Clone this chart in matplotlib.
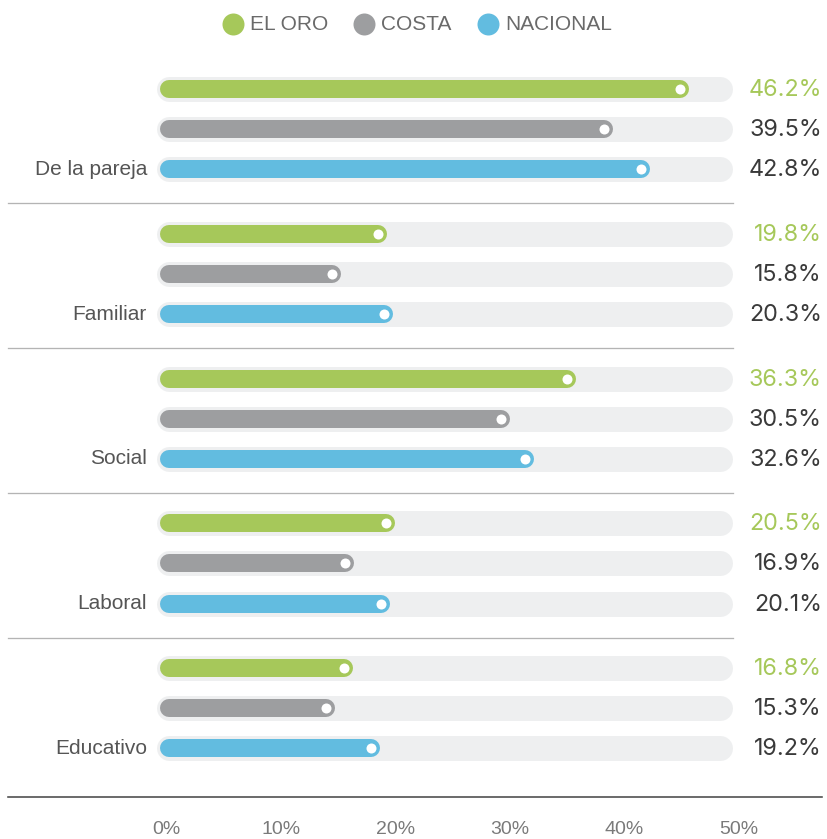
import matplotlib
matplotlib.use("Agg")
import matplotlib.pyplot as plt

categories = ["De la pareja", "Familiar", "Social", "Laboral", "Educativo"]
series = ["EL ORO", "COSTA", "NACIONAL"]
el_oro = [46.2, 19.8, 36.3, 20.5, 16.8]
costa = [39.5, 15.8, 30.5, 16.9, 15.3]
nacional = [42.8, 20.3, 32.6, 20.1, 19.2]
tick_values = [0, 10, 20, 30, 40, 50]
tick_labels = ["0%", "10%", "20%", "30%", "40%", "50%"]

colors = ["#a6c85a", "#9d9ea0", "#62bce0"]
track_color = "#eeeff0"
values = [el_oro, costa, nacional]

W, H = 827, 839
fig = plt.figure(figsize=(W / 100, H / 100), dpi=100)
ax = fig.add_axes([0, 0, 1, 1])
x0_px, x50_px = 160, 733
scale = 50 / (x50_px - x0_px)  # data units per pixel
ax.set_xlim(-x0_px * scale, (W - x0_px) * scale)
ax.set_ylim(H, 0)
ax.axis("off")

px2pt = 0.72
track_h, bar_h = 25, 18
r_track = track_h / 2 * scale
r_bar = bar_h / 2 * scale
group_gap, bar_gap, top = 144.75, 40.2, 89

font_main = ["Liberation Sans", "DejaVu Sans"]
font_val = ["Inter", "DejaVu Sans"]

for g, cat in enumerate(categories):
    for s in range(3):
        y = top + g * group_gap + s * bar_gap
        v = values[s][g]
        ax.plot([-3 * scale + r_track, 50 - r_track], [y, y], color=track_color,
                lw=track_h * px2pt, solid_capstyle="round", zorder=1)
        ax.plot([r_bar, v - r_bar], [y, y], color=colors[s],
                lw=bar_h * px2pt, solid_capstyle="round", zorder=2)
        ax.plot([v - r_bar], [y], marker="o", ms=10 * px2pt, color="white",
                mec="none", zorder=3)
        ax.text((822 - x0_px) * scale, y + 1, f"{v:.1f}%", ha="right", va="center",
                fontsize=16.8, family=font_val,
                color=colors[0] if s == 0 else "#3a3a3a")
    ycat = top + g * group_gap + 2 * bar_gap
    ax.text(-13 * scale, ycat, cat, ha="right", va="center", fontsize=15,
            family=font_main, color="#555555")
    if g < len(categories) - 1:
        ysep = top + g * group_gap + 2 * bar_gap + 34
        ax.plot([(8 - x0_px) * scale, 50], [ysep, ysep], color="#b4b4b4",
                lw=1.3 * px2pt, zorder=0)

ax.plot([(8 - x0_px) * scale, (822 - x0_px) * scale], [797, 797], color="#4a4a4a",
        lw=1.6 * px2pt, zorder=0)

for t, lab in zip(tick_values, tick_labels):
    ax.text(t + 6 * scale, 829, lab, ha="center", va="center", fontsize=14,
            family=["Liberation Sans Narrow", "Liberation Sans", "DejaVu Sans"],
            color="#7a7a7a")

# legend
leg_x = [233, 364, 488]
for s, name in enumerate(series):
    ax.plot([(leg_x[s] - x0_px) * scale], [24], marker="o", ms=22 * px2pt,
            color=colors[s], mec="none")
    ax.text((leg_x[s] + 17 - x0_px) * scale, 25, name, ha="left", va="center",
            fontsize=15, family=font_main, color="#6a6a6a")

fig.savefig("out.png", dpi=100)
